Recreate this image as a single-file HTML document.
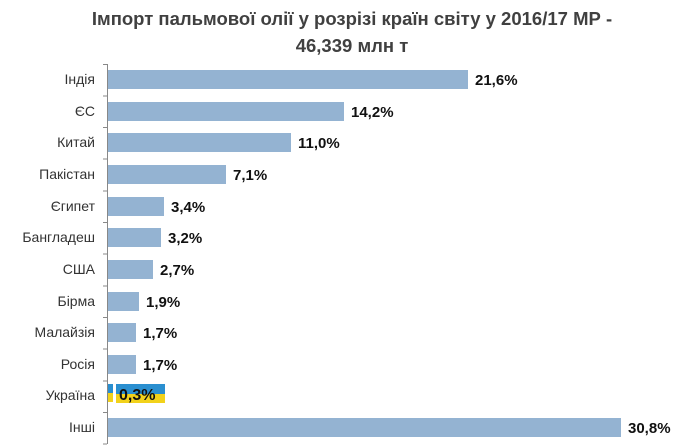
<!DOCTYPE html>
<html><head><meta charset="utf-8"><style>
body{margin:0;background:#fff;}
svg{display:block;font-family:"Liberation Sans","DejaVu Sans",sans-serif;}
</style></head><body>
<svg width="695" height="446" viewBox="0 0 695 446">
<text x="352" y="25" text-anchor="middle" font-size="18.5" font-weight="bold" fill="#404040">Імпорт пальмової олії у розрізі країн світу у 2016/17 МР -</text>
<text x="352" y="52" text-anchor="middle" font-size="18.5" font-weight="bold" fill="#404040">46,339 млн т</text>
<line x1="107.5" y1="64" x2="107.5" y2="444" stroke="#888" stroke-width="1"/>
<g stroke="#888" stroke-width="1">
<line x1="103" y1="64.5" x2="107" y2="64.5"/><line x1="103" y1="96" x2="107" y2="96"/><line x1="103" y1="127.5" x2="107" y2="127.5"/><line x1="103" y1="159" x2="107" y2="159"/><line x1="103" y1="191" x2="107" y2="191"/><line x1="103" y1="222.5" x2="107" y2="222.5"/><line x1="103" y1="254" x2="107" y2="254"/><line x1="103" y1="286" x2="107" y2="286"/><line x1="103" y1="317.5" x2="107" y2="317.5"/><line x1="103" y1="349" x2="107" y2="349"/><line x1="103" y1="381" x2="107" y2="381"/><line x1="103" y1="412.5" x2="107" y2="412.5"/><line x1="103" y1="444" x2="107" y2="444"/>
</g>
<g fill="#94b3d2">
<rect x="108" y="70" width="360" height="19"/>
<rect x="108" y="102" width="236" height="19"/>
<rect x="108" y="133" width="183" height="19"/>
<rect x="108" y="165" width="118" height="19"/>
<rect x="108" y="197" width="56" height="19"/>
<rect x="108" y="228" width="53" height="19"/>
<rect x="108" y="260" width="45" height="19"/>
<rect x="108" y="292" width="31" height="19"/>
<rect x="108" y="323" width="28" height="19"/>
<rect x="108" y="355" width="28" height="19"/>
<rect x="108" y="418" width="513" height="19"/>
</g>
<rect x="108" y="384" width="5" height="9" fill="#2a8fd0"/><rect x="108" y="393" width="5" height="9" fill="#f2d21b"/>
<rect x="116" y="384" width="49" height="10" fill="#2a8fd0"/><rect x="116" y="394" width="49" height="9" fill="#f2d21b"/>
<g font-size="14" fill="#333" text-anchor="end">
<text x="95" y="84">Індія</text><text x="95" y="116">ЄС</text><text x="95" y="147">Китай</text><text x="95" y="179">Пакістан</text><text x="95" y="211">Єгипет</text><text x="95" y="242">Бангладеш</text><text x="95" y="274">США</text><text x="95" y="306">Бірма</text><text x="95" y="337">Малайзія</text><text x="95" y="369">Росія</text><text x="95" y="400">Україна</text><text x="95" y="432">Інші</text>
</g>
<g font-size="15" font-weight="bold" fill="#111">
<text x="475" y="85">21,6%</text><text x="351" y="117">14,2%</text><text x="298" y="148">11,0%</text><text x="233" y="180">7,1%</text><text x="171" y="212">3,4%</text><text x="168" y="243">3,2%</text><text x="160" y="275">2,7%</text><text x="146" y="307">1,9%</text><text x="143" y="338">1,7%</text><text x="143" y="370">1,7%</text><text x="119" y="400" font-size="16">0,3%</text><text x="628" y="433">30,8%</text>
</g>
</svg>
</body></html>
